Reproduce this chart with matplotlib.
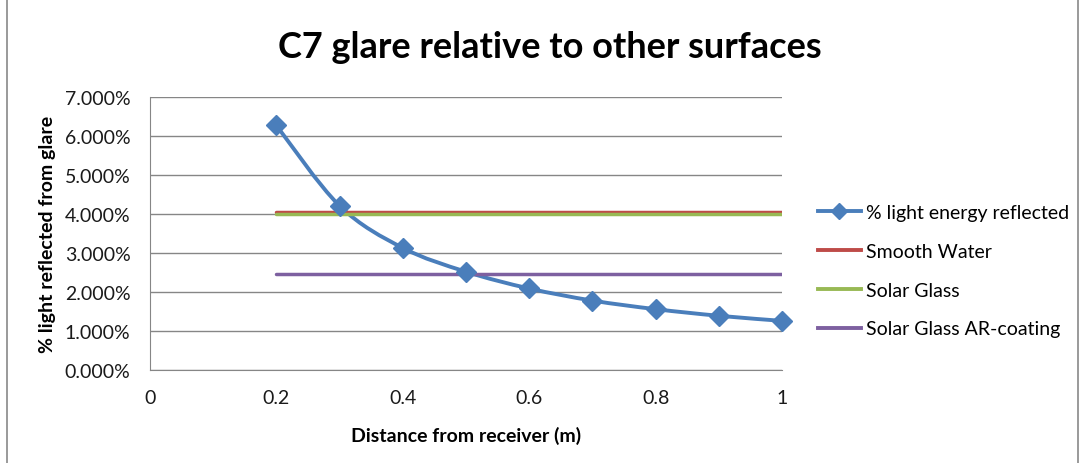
import numpy as np
import matplotlib
matplotlib.use("Agg")
from matplotlib import pyplot as plt
from matplotlib.path import Path
from matplotlib.patches import PathPatch, Rectangle
from matplotlib.lines import Line2D
from matplotlib.ticker import FuncFormatter

plt.rcParams['font.family'] = ['Lato', 'DejaVu Sans']

# data
distance = [0.2, 0.3, 0.4, 0.5, 0.6, 0.7, 0.8, 0.9, 1.0]
light_reflected = [6.27, 4.21, 3.13, 2.52, 2.09, 1.78, 1.56, 1.39, 1.26]
ref_x = [0.2, 1.0]
smooth_water = [4.06, 4.06]
solar_glass = [4.0, 4.0]
solar_glass_ar = [2.47, 2.47]
x_ticks = [0, 0.2, 0.4, 0.6, 0.8, 1]
y_ticks = [0, 1, 2, 3, 4, 5, 6, 7]

blue = '#4a7ebb'
red = '#be4b48'
green = '#98b954'
purple = '#7d60a0'
grid = '#868686'

fig = plt.figure(figsize=(10.85, 4.64), dpi=100)
fig.patches.append(Rectangle((0.006, -0.01), 0.988, 1.02, transform=fig.transFigure,
                             fill=False, edgecolor='#898989', lw=1.2))
ax = fig.add_axes([150/1085, 1-371/464, (782-150)/1085, (371-98)/464])

ax.set_xlim(0, 1)
ax.set_ylim(0, 7)
ax.set_xticks(x_ticks)
ax.set_yticks(y_ticks)
ax.xaxis.set_major_formatter(FuncFormatter(lambda v, p: '%g' % v))
ax.yaxis.set_major_formatter(FuncFormatter(lambda v, p: '%.3f%%' % v))
ax.grid(axis='y', color=grid, lw=1)
ax.set_axisbelow(True)
for s in ['top', 'right']:
    ax.spines[s].set_visible(False)
for s in ['left', 'bottom']:
    ax.spines[s].set_color(grid)
ax.tick_params(length=0, labelsize=14, colors='#1a1a1a')
ax.tick_params(axis='x', pad=14)
ax.tick_params(axis='y', pad=14)

# reference lines
ax.plot(ref_x, smooth_water, color=red, lw=2.5, solid_capstyle='round')
ax.plot(ref_x, solar_glass, color=green, lw=2.5, solid_capstyle='round')
ax.plot(ref_x, solar_glass_ar, color=purple, lw=2.5, solid_capstyle='round')

# smoothed curve like excel (catmull-rom -> bezier)
px = np.array(distance)
py = np.array(light_reflected)
verts = [(px[0], py[0])]
codes = [Path.MOVETO]
n = len(px)
for i in range(n - 1):
    p0 = (px[max(i-1, 0)], py[max(i-1, 0)])
    p1 = (px[i], py[i])
    p2 = (px[i+1], py[i+1])
    p3 = (px[min(i+2, n-1)], py[min(i+2, n-1)])
    c1 = (p1[0] + (p2[0]-p0[0])/6, p1[1] + (p2[1]-p0[1])/6)
    c2 = (p2[0] - (p3[0]-p1[0])/6, p2[1] - (p3[1]-p1[1])/6)
    verts += [c1, c2, p2]
    codes += [Path.CURVE4] * 3
ax.add_patch(PathPatch(Path(verts, codes), fill=False, edgecolor=blue, lw=2.8))
ax.plot(distance, light_reflected, ls='none', marker='D', ms=10, color=blue, clip_on=False)

ax.set_xlabel('Distance from receiver (m)', fontsize=14, fontweight='bold', labelpad=14)
ax.set_ylabel('% light reflected from glare', fontsize=14, fontweight='bold', labelpad=6)
fig.text(550/1085, 1-48/464, 'C7 glare relative to other surfaces', fontsize=26,
         fontweight='bold', ha='center', va='center')

handles = [Line2D([], [], color=blue, lw=2.8, marker='D', ms=8),
           Line2D([], [], color=red, lw=2.8),
           Line2D([], [], color=green, lw=2.8),
           Line2D([], [], color=purple, lw=2.8)]
labels = ['% light energy reflected', 'Smooth Water', 'Solar Glass', 'Solar Glass AR-coating']
fig.legend(handles, labels, loc='upper left', bbox_to_anchor=(818/1085, 1-205/464),
           frameon=False, fontsize=14, handlelength=2.2, handletextpad=0.25,
           labelspacing=1.12, borderaxespad=0, borderpad=0)

fig.savefig('out.png', dpi=100)
